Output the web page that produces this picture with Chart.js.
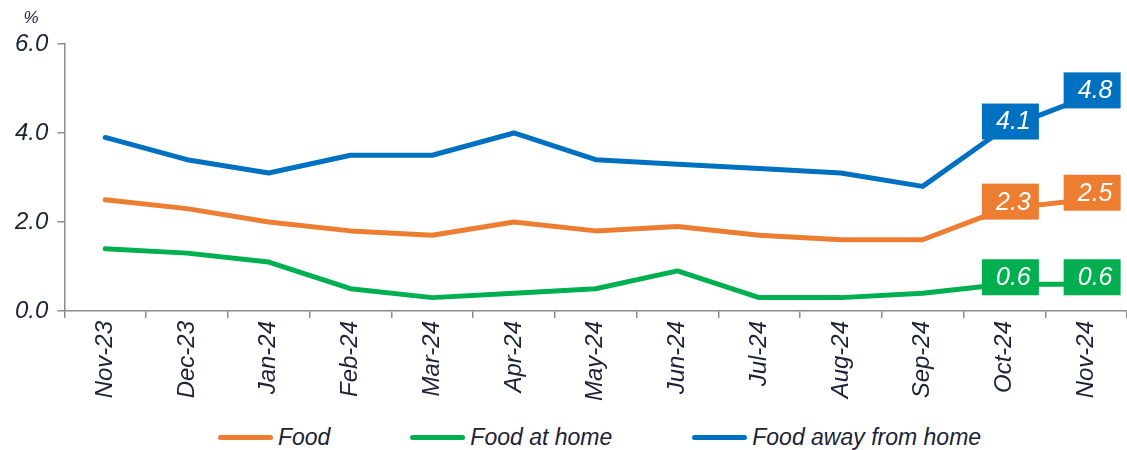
<!DOCTYPE html>
<html lang="en">
  <head>
    <meta charset="UTF-8" />
    <title>Food price inflation</title>
    <style>
      html, body { margin: 0; padding: 0; background: #fff; overflow: hidden; }
      .wrap { position: relative; width: 1127px; height: 450px; }
      #chart { position: absolute; left: 0; top: 0; }
      #legend {
        position: absolute; left: 0; top: 423px; width: 1127px; height: 28px;
        box-sizing: border-box; padding-left: 72px;
        display: flex; justify-content: center; align-items: center;
        font: italic 23px "Liberation Sans", Arial, sans-serif; color: #1c2336;
      }
      #legend .item { display: flex; align-items: center; margin: 0 40px; }
      #legend .swatch { width: 55px; height: 5px; border-radius: 3px; margin-right: 5px; }
    </style>
  </head>
  <body>
    <div class="wrap">
      <canvas id="chart" width="1127" height="404"></canvas>
      <div id="legend"></div>
    </div>
    <script src="https://cdn.jsdelivr.net/npm/chart.js"></script>
    <script>
      const months = ["Nov-23", "Dec-23", "Jan-24", "Feb-24", "Mar-24", "Apr-24", "May-24",
        "Jun-24", "Jul-24", "Aug-24", "Sep-24", "Oct-24", "Nov-24"];
      const food = [2.5, 2.3, 2.0, 1.8, 1.7, 2.0, 1.8, 1.9, 1.7, 1.6, 1.6, 2.3, 2.5];
      const foodAtHome = [1.4, 1.3, 1.1, 0.5, 0.3, 0.4, 0.5, 0.9, 0.3, 0.3, 0.4, 0.6, 0.6];
      const foodAway = [3.9, 3.4, 3.1, 3.5, 3.5, 4.0, 3.4, 3.3, 3.2, 3.1, 2.8, 4.1, 4.8];
      const seriesNames = ["Food", "Food at home", "Food away from home"];
      const seriesColors = ["#ED7D31", "#00B050", "#0070C0"];
      const labelledPoints = [11, 12]; // Oct-24 and Nov-24 get value boxes
      const yTicks = [0, 2, 4, 6];

      const textColor = "#1c2336";
      const axisColor = "#8c8c8c";
      const fontFamily = '"Liberation Sans", Arial, sans-serif';

      // value boxes on the last two points
      const valueBoxes = {
        id: "valueBoxes",
        afterDatasetsDraw(chart) {
          const ctx = chart.ctx;
          ctx.save();
          chart.data.datasets.forEach((ds, di) => {
            const meta = chart.getDatasetMeta(di);
            labelledPoints.forEach((i) => {
              const pt = meta.data[i];
              const w = 57, h = 36;
              let cx = pt.x + 6;
              if (cx + w / 2 > chart.width - 2) cx = chart.width - 2 - w / 2;
              const cy = pt.y - 7;
              ctx.fillStyle = ds.borderColor;
              ctx.fillRect(cx - w / 2, cy - h / 2, w, h);
              ctx.fillStyle = "#fff";
              ctx.font = "italic 25px " + fontFamily;
              ctx.textAlign = "center";
              ctx.textBaseline = "middle";
              ctx.fillText(ds.data[i].toFixed(1), cx + 3, cy + 1);
            });
          });
          ctx.restore();
        },
      };

      // "%" unit above the y axis
      const unitLabel = {
        id: "unitLabel",
        afterDraw(chart) {
          const ctx = chart.ctx;
          ctx.save();
          ctx.fillStyle = textColor;
          ctx.font = "italic 17px " + fontFamily;
          ctx.textAlign = "center";
          ctx.textBaseline = "middle";
          ctx.fillText("%", 31, 18);
          ctx.restore();
        },
      };

      const seriesData = [food, foodAtHome, foodAway];

      new Chart(document.getElementById("chart"), {
        type: "line",
        plugins: [valueBoxes, unitLabel],
        data: {
          labels: months,
          datasets: seriesNames.map((name, k) => ({
            label: name,
            data: seriesData[k],
            borderColor: seriesColors[k],
            backgroundColor: seriesColors[k],
            borderWidth: 5,
            pointRadius: 0,
            tension: 0,
            borderJoinStyle: "round",
            borderCapStyle: "round",
          })),
        },
        options: {
          responsive: false,
          animation: false,
          layout: { padding: { top: 44, left: 6, right: 0, bottom: 0 } },
          plugins: {
            legend: { display: false },
            tooltip: { enabled: false },
          },
          scales: {
            x: {
              offset: true,
              grid: {
                display: true,
                drawOnChartArea: false,
                offset: true,
                color: axisColor,
                lineWidth: 1.5,
                tickLength: 7,
              },
              border: { color: axisColor, width: 1.5 },
              ticks: {
                minRotation: 90,
                maxRotation: 90,
                color: textColor,
                padding: 3,
                font: { family: fontFamily, size: 24, style: "italic" },
              },
            },
            y: {
              min: 0,
              max: 6,
              afterBuildTicks: (axis) => {
                axis.ticks = yTicks.map((v) => ({ value: v }));
              },
              grid: {
                display: true,
                drawOnChartArea: false,
                color: axisColor,
                lineWidth: 1.5,
                tickLength: 7,
              },
              border: { color: axisColor, width: 1.5 },
              ticks: {
                color: textColor,
                padding: 9,
                font: { family: fontFamily, size: 24, style: "italic" },
                callback: (v) => Number(v).toFixed(1),
              },
            },
          },
        },
      });

      // legend built from the same series arrays
      const legend = document.getElementById("legend");
      seriesNames.forEach((name, k) => {
        const item = document.createElement("div");
        item.className = "item";
        const sw = document.createElement("span");
        sw.className = "swatch";
        sw.style.background = seriesColors[k];
        const tx = document.createElement("span");
        tx.textContent = name;
        item.appendChild(sw);
        item.appendChild(tx);
        legend.appendChild(item);
      });
    </script>
  </body>
</html>
